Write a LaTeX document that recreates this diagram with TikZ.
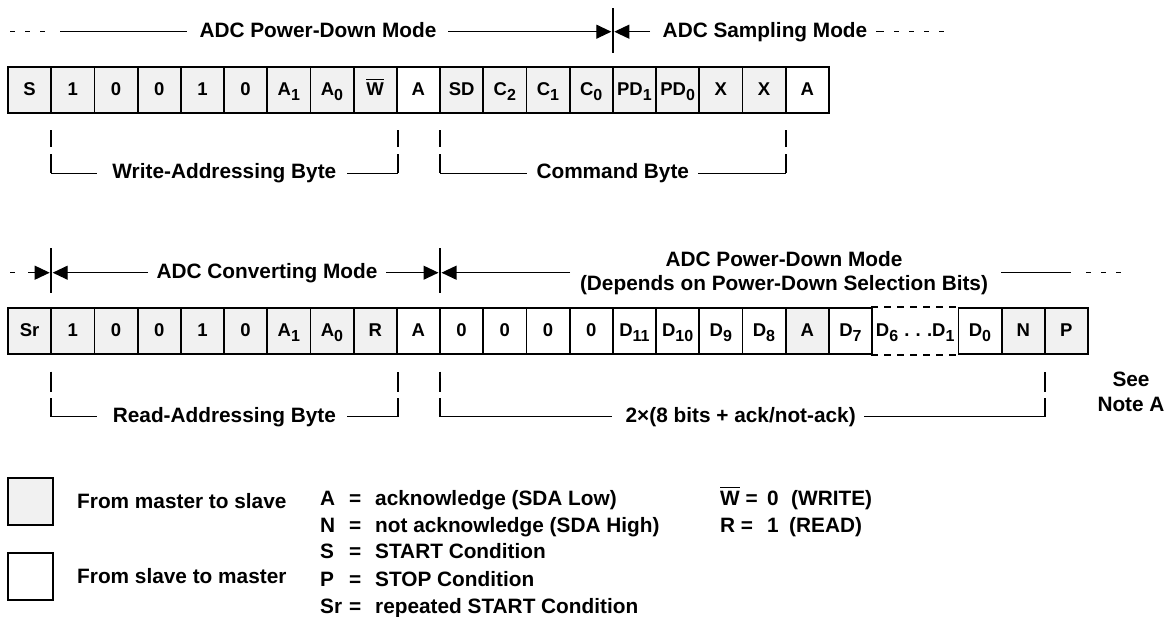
\documentclass[tikz,border=0pt]{standalone}
\usepackage{fontspec}
\setmainfont{Liberation Sans}
\usetikzlibrary{arrows.meta}
\definecolor{cellgray}{gray}{0.945}
\newcommand{\sbs}[1]{\raisebox{-5.5pt}{\fontsize{16}{16}\selectfont #1}}
\newcommand{\ovl}[1]{\leavevmode\setbox0\hbox{#1}\rlap{\raisebox{\dimexpr\ht0+2.6pt\relax}{\rule{\wd0}{1.1pt}}}\box0\relax}
\tikzset{
  cell/.style={draw, line width=1.8pt, minimum width=43.2pt, minimum height=46pt,
    inner sep=0pt, font=\fontsize{18.5}{18.5}\selectfont\bfseries,
    text height=13.2pt, text depth=3pt, anchor=center},
  lbl/.style={font=\fontsize{20.8}{25}\selectfont\bfseries, inner sep=0pt, anchor=base},
  lbll/.style={lbl, anchor=base west},
  hline/.style={line width=1.1pt},
  hdash/.style={line width=1.1pt, dash pattern=on 5pt off 10pt},
  tri/.style={hline, -{Triangle[length=15pt,width=14pt]}},
  divider/.style={line width=1.6pt},
  bh/.style={line width=1.3pt},
  bv/.style={line width=2pt},
  legbox/.style={draw, line width=1.8pt, minimum width=45pt, minimum height=47pt, inner sep=0pt}
}
\begin{document}
\begin{tikzpicture}[x=1pt,y=-1pt]
\useasboundingbox (0,0) rectangle (1173,616);
\fill[white] (0,0) rectangle (1173,616);

% ---------------- Row 1 cells ----------------
\foreach \i/\t/\f in {0/S/cellgray, 1/1/cellgray, 2/0/cellgray, 3/0/cellgray, 4/1/cellgray,
  5/0/cellgray, 6/A\sbs{1}/cellgray, 7/A\sbs{0}/cellgray, 8/\ovl{W}/cellgray, 9/A/white,
  10/SD/cellgray, 11/C\sbs{2}/cellgray, 12/C\sbs{1}/cellgray, 13/C\sbs{0}/cellgray,
  14/PD\sbs{1}/cellgray, 15/PD\sbs{0}/cellgray, 16/X/cellgray, 17/X/cellgray, 18/A/white}
  {\node[cell, fill=\f] (r1c\i) at ({29.6+43.2*\i},90) {\t};}

% ---------------- Row 1 header ----------------
\coordinate (d1t) at (612.8,8);
\coordinate (d1b) at (612.8,53);
\draw[divider] (d1t) -- (d1b);
\draw[hdash] (10,31.7) -- (50,31.7);
\draw[hline] (60,31.7) -- (187,31.7);
\node[lbl] (h1) at (318,37) {ADC Power-Down Mode};
\draw[tri] (448,31.7) -- (611.3,31.7);
\draw[tri] (650,31.7) -- (614.3,31.7);
\node[lbl] (h2) at (765,37) {ADC Sampling Mode};
\draw[hline] (876,31.7) -- (884,31.7);
\draw[hdash] (894,31.7) -- (946,31.7);

% ---------------- Row 1 brackets ----------------
\draw[bv] (51.2,130) -- (51.2,147);
\draw[bv] (51.2,154) -- (51.2,173.3);
\draw[bh] (51.2,173.3) -- (97,173.3);
\node[lbl] (wab) at (224.4,178.5) {Write-Addressing Byte};
\draw[bh] (347,173.3) -- (397.6,173.3);
\draw[bv] (397.6,173.3) -- (397.6,154);
\draw[bv] (397.6,147) -- (397.6,130);

\draw[bv] (440,130) -- (440,147);
\draw[bv] (440,154) -- (440,173.3);
\draw[bh] (440,173.3) -- (526.7,173.3);
\node[lbl] (cb) at (612.8,178.5) {Command Byte};
\draw[bh] (698,173.3) -- (785.6,173.3);
\draw[bv] (785.6,173.3) -- (785.6,154);
\draw[bv] (785.6,147) -- (785.6,130);

% ---------------- Row 2 cells ----------------
\foreach \i/\t/\f in {0/Sr/cellgray, 1/1/cellgray, 2/0/cellgray, 3/0/cellgray, 4/1/cellgray,
  5/0/cellgray, 6/A\sbs{1}/cellgray, 7/A\sbs{0}/cellgray, 8/R/cellgray, 9/A/white,
  10/0/white, 11/0/white, 12/0/white, 13/0/white,
  14/D\sbs{11}/white, 15/D\sbs{10}/white, 16/D\sbs{9}/white, 17/D\sbs{8}/white,
  18/A/cellgray, 19/D\sbs{7}/white, 22/D\sbs{0}/white, 23/N/cellgray, 24/P/cellgray}
  {\node[cell, fill=\f] (r2c\i) at ({29.6+43.2*\i},331) {\t};}
\node[cell, draw=none, minimum width=86.4pt] (r2c20) at (915.2,331)
  {D\sbs{6}\,\,.\,\,.\,\,.D\sbs{1}};
\draw[line width=1.8pt, dash pattern=on 7pt off 6pt] (r2c20.north west) -- (r2c20.north east);
\draw[line width=1.8pt, dash pattern=on 7pt off 6pt] (r2c20.south west) -- (r2c20.south east);

% ---------------- Row 2 header ----------------
\coordinate (d2t) at (51.2,248);
\coordinate (d2b) at (51.2,293);
\coordinate (d3t) at (440,248);
\coordinate (d3b) at (440,293);
\draw[divider] (d2t) -- (d2b);
\draw[divider] (d3t) -- (d3b);
\draw[hline, dash pattern=on 5pt off 13pt] (10,272.7) -- (33,272.7);
\draw[tri] (33,272.7) -- (49.7,272.7);
\draw[tri] (148,272.7) -- (52.7,272.7);
\node[lbl] (h3) at (267,278.2) {ADC Converting Mode};
\draw[tri] (386,272.7) -- (438.5,272.7);
\draw[tri] (570,272.7) -- (441.5,272.7);
\node[lbl] (h4a) at (784,266.7) {ADC Power-Down Mode};
\node[lbl] (h4b) at (784,290) {(Depends on Power-Down Selection Bits)};
\draw[hline] (1001,272.7) -- (1071,272.7);
\draw[hdash] (1086,272.7) -- (1131,272.7);

% ---------------- Row 2 brackets ----------------
\draw[bv] (51.2,371.5) -- (51.2,391.5);
\draw[bv] (51.2,398) -- (51.2,416.5);
\draw[bh] (51.2,416.5) -- (97,416.5);
\node[lbl] (rab) at (224.4,422) {Read-Addressing Byte};
\draw[bh] (347,416.5) -- (397.6,416.5);
\draw[bv] (397.6,416.5) -- (397.6,398);
\draw[bv] (397.6,391.5) -- (397.6,371.5);

\draw[bv] (440,371.5) -- (440,391.5);
\draw[bv] (440,398) -- (440,416.5);
\draw[bh] (440,416.5) -- (611.7,416.5);
\node[lbl] (tb) at (740.7,422) {2×(8 bits + ack/not-ack)};
\draw[bh] (864,416.5) -- (1044.8,416.5);
\draw[bv] (1044.8,416.5) -- (1044.8,398);
\draw[bv] (1044.8,391.5) -- (1044.8,371.5);

\node[lbl] (see1) at (1131,386.7) {See};
\node[lbl] (see2) at (1131,411.7) {Note A};

% ---------------- Legend ----------------
\node[legbox, fill=cellgray] (lm) at (30.8,501.5) {};
\node[legbox, fill=white] (ls) at (30.8,576.5) {};
\node[lbll] (lmt) at (77,508.3) {From master to slave};
\node[lbll] (lst) at (77,583.3) {From slave to master};

\foreach \k/\t/\y in {a/A/505.2, n/N/532, s/S/558.5, p/P/586, sr/Sr/613}
  {\node[lbll] (k\k) at (320,\y) {\t};
   \node[lbll] (e\k) at (349,\y) {=};}
\node[lbll] (ta) at (375,505.2) {acknowledge (SDA Low)};
\node[lbll] (tn) at (375,532) {not acknowledge (SDA High)};
\node[lbll] (ts) at (375,558.5) {START Condition};
\node[lbll] (tp) at (375,586) {STOP Condition};
\node[lbll] (tsr) at (375,613) {repeated START Condition};

\node[lbll] (wk) at (720,505.2) {\ovl{W} =};
\node[lbll] (wv) at (767,505.2) {0};
\node[lbll] (wt) at (791,505.2) {(WRITE)};
\node[lbll] (rk) at (720,532) {R =};
\node[lbll] (rv) at (767,532) {1};
\node[lbll] (rt) at (789,532) {(READ)};
\end{tikzpicture}
\end{document}
